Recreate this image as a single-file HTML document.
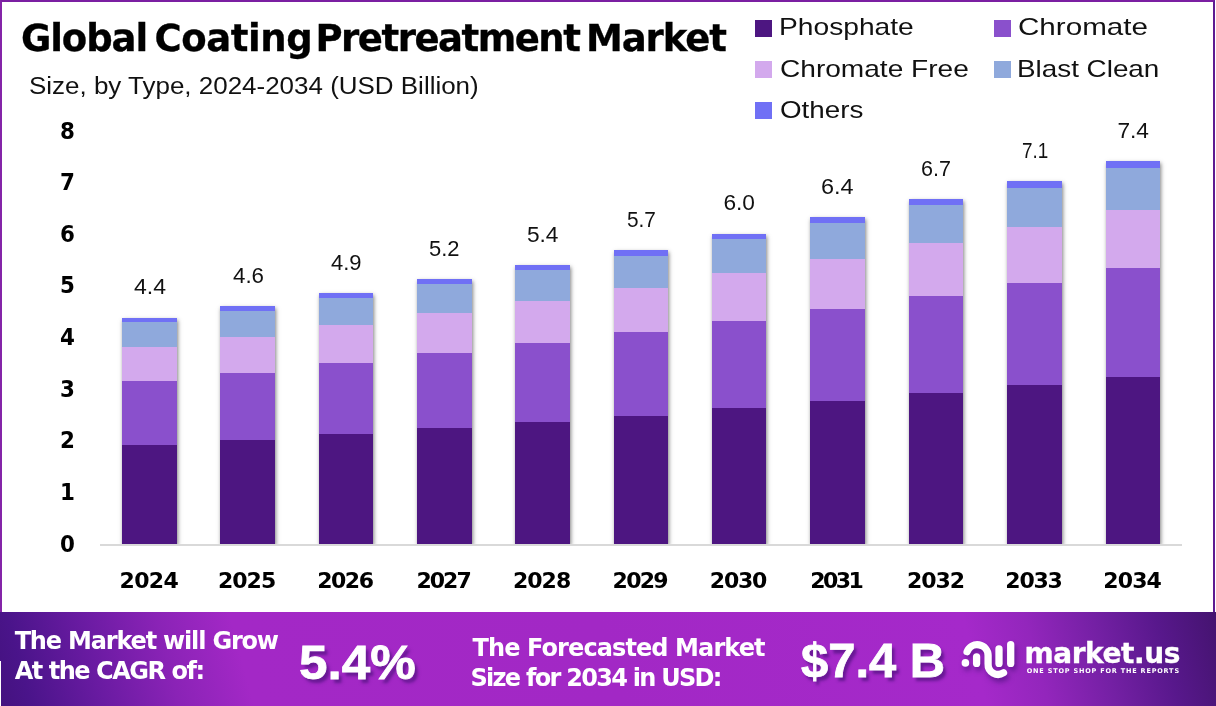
<!DOCTYPE html>
<html lang="en">
<head>
<meta charset="utf-8">
<title>Global Coating Pretreatment Market</title>
<style>
html,body{margin:0;padding:0;}
body{width:1216px;height:706px;position:relative;overflow:hidden;background:#fff;font-family:"Liberation Sans",sans-serif;}
.t{position:absolute;margin:0;padding:0;white-space:pre;line-height:1;transform-origin:0 50%;display:block;font-style:normal}
h1,h2,ul,li,p{margin:0;padding:0;list-style:none;font-weight:normal}
.frame{position:absolute;left:0;top:0;width:1215px;height:612px;box-sizing:border-box;border-top:2px solid #7b1fa2;border-left:2px solid #8424a8;border-right:2px solid #5e1b91;}
.legend i{position:absolute;width:17px;height:17px;display:block}
.bar{position:absolute;width:54.6px;box-shadow:0.5px 2px 4px rgba(0,0,0,.5);clip-path:inset(-10px -10px 0 -10px);}
.bar b{position:absolute;left:0;width:100%;display:block}
.axis{position:absolute;left:100px;top:544px;width:1082px;height:2px;background:#d9d9d9}
.footer{position:absolute;left:0;top:612px;width:1216px;height:94px;background:linear-gradient(75deg,#44127f 0%,#4a148a 2.5%,#6a1ba2 8.5%,#8a23b6 14.5%,#a328c6 20.5%,#a228c5 50%,#a529ca 79.5%,#9326bc 84.5%,#7420a4 90%,#58188c 95%,#461472 99.5%,#44136f 100%);}
</style>
</head>
<body>
<div class="frame"></div>
<h1><span class="t" style="left:21.00px;top:19.88px;font-size:37px;font-weight:bold;color:#000;letter-spacing:-1.100px;-webkit-text-stroke:0.3px #000;font-family:'DejaVu Sans',sans-serif;">Global</span><span class="t" style="left:154.50px;top:19.88px;font-size:37px;font-weight:bold;color:#000;letter-spacing:-0.417px;-webkit-text-stroke:0.3px #000;font-family:'DejaVu Sans',sans-serif;">Coating</span><span class="t" style="left:315.50px;top:19.88px;font-size:37px;font-weight:bold;color:#000;letter-spacing:-1.500px;-webkit-text-stroke:0.3px #000;font-family:'DejaVu Sans',sans-serif;">Pretreatment</span><span class="t" style="left:586.00px;top:19.88px;font-size:37px;font-weight:bold;color:#000;letter-spacing:-1.100px;-webkit-text-stroke:0.3px #000;font-family:'DejaVu Sans',sans-serif;">Market</span></h1>
<h2><span class="t" style="left:29.44px;top:73.85px;font-size:24.4px;font-weight:normal;color:#111;transform:scaleX(1.0643);">Size, by Type, 2024-2034 (USD Billion)</span></h2>
<ul class="legend">
<li><i style="left:755px;top:20px;background:#4d1681"></i><span class="t" style="left:778.65px;top:15.08px;font-size:24px;font-weight:normal;color:#111;transform:scaleX(1.1741);">Phosphate</span></li>
<li><i style="left:994px;top:20px;background:#8a50cc"></i><span class="t" style="left:1017.77px;top:15.08px;font-size:24px;font-weight:normal;color:#111;transform:scaleX(1.2330);">Chromate</span></li>
<li><i style="left:755px;top:61px;background:#d3a9ed"></i><span class="t" style="left:779.83px;top:56.68px;font-size:24px;font-weight:normal;color:#111;transform:scaleX(1.1698);">Chromate Free</span></li>
<li><i style="left:994px;top:61px;background:#8fa9dc"></i><span class="t" style="left:1016.68px;top:56.68px;font-size:24px;font-weight:normal;color:#111;transform:scaleX(1.1597);">Blast Clean</span></li>
<li><i style="left:755px;top:102px;background:#7070f5"></i><span class="t" style="left:779.84px;top:97.88px;font-size:24px;font-weight:normal;color:#111;transform:scaleX(1.1571);">Others</span></li>
</ul>
<div class="yaxis"><span class="t" style="left:59.52px;top:532.59px;font-size:22.1px;font-weight:bold;color:#000;transform:scaleX(0.9700);font-family:'DejaVu Sans',sans-serif;">0</span><span class="t" style="left:59.52px;top:480.97px;font-size:22.1px;font-weight:bold;color:#000;transform:scaleX(0.9700);font-family:'DejaVu Sans',sans-serif;">1</span><span class="t" style="left:60.49px;top:429.35px;font-size:22.1px;font-weight:bold;color:#000;transform:scaleX(0.9700);font-family:'DejaVu Sans',sans-serif;">2</span><span class="t" style="left:59.52px;top:377.73px;font-size:22.1px;font-weight:bold;color:#000;transform:scaleX(0.9700);font-family:'DejaVu Sans',sans-serif;">3</span><span class="t" style="left:59.52px;top:326.11px;font-size:22.1px;font-weight:bold;color:#000;transform:scaleX(0.9700);font-family:'DejaVu Sans',sans-serif;">4</span><span class="t" style="left:59.52px;top:274.49px;font-size:22.1px;font-weight:bold;color:#000;transform:scaleX(0.9700);font-family:'DejaVu Sans',sans-serif;">5</span><span class="t" style="left:59.52px;top:222.87px;font-size:22.1px;font-weight:bold;color:#000;transform:scaleX(0.9700);font-family:'DejaVu Sans',sans-serif;">6</span><span class="t" style="left:59.52px;top:171.25px;font-size:22.1px;font-weight:bold;color:#000;transform:scaleX(0.9700);font-family:'DejaVu Sans',sans-serif;">7</span><span class="t" style="left:59.52px;top:119.63px;font-size:22.1px;font-weight:bold;color:#000;transform:scaleX(0.9700);font-family:'DejaVu Sans',sans-serif;">8</span></div>
<div class="plot">
<div class="bar" style="left:122px;width:55px;top:317.5px;height:226.5px"><b style="top:127.29px;height:99.51px;background:#4d1681"></b><b style="top:63.26px;height:64.33px;background:#8a50cc"></b><b style="top:28.77px;height:34.80px;background:#d3a9ed"></b><b style="top:4.01px;height:25.06px;background:#8fa9dc"></b><b style="top:0.00px;height:4.31px;background:#7070f5"></b></div>
<div class="bar" style="left:220px;width:55px;top:306px;height:238px"><b style="top:133.76px;height:104.54px;background:#4d1681"></b><b style="top:66.47px;height:67.58px;background:#8a50cc"></b><b style="top:30.23px;height:36.55px;background:#d3a9ed"></b><b style="top:4.21px;height:26.31px;background:#8fa9dc"></b><b style="top:0.00px;height:4.51px;background:#7070f5"></b></div>
<div class="bar" style="left:319px;width:54px;top:293px;height:251px"><b style="top:141.06px;height:110.24px;background:#4d1681"></b><b style="top:70.10px;height:71.26px;background:#8a50cc"></b><b style="top:31.88px;height:38.53px;background:#d3a9ed"></b><b style="top:4.44px;height:27.73px;background:#8fa9dc"></b><b style="top:0.00px;height:4.74px;background:#7070f5"></b></div>
<div class="bar" style="left:417px;width:55px;top:279px;height:265px"><b style="top:148.93px;height:116.37px;background:#4d1681"></b><b style="top:74.01px;height:75.22px;background:#8a50cc"></b><b style="top:33.65px;height:40.66px;background:#d3a9ed"></b><b style="top:4.69px;height:29.26px;background:#8fa9dc"></b><b style="top:0.00px;height:4.99px;background:#7070f5"></b></div>
<div class="bar" style="left:515px;width:55px;top:265px;height:279px"><b style="top:156.80px;height:122.50px;background:#4d1681"></b><b style="top:77.92px;height:79.17px;background:#8a50cc"></b><b style="top:35.43px;height:42.79px;background:#d3a9ed"></b><b style="top:4.94px;height:30.79px;background:#8fa9dc"></b><b style="top:0.00px;height:5.24px;background:#7070f5"></b></div>
<div class="bar" style="left:614px;width:54px;top:250px;height:294px"><b style="top:165.23px;height:129.07px;background:#4d1681"></b><b style="top:82.11px;height:83.41px;background:#8a50cc"></b><b style="top:37.34px;height:45.08px;background:#d3a9ed"></b><b style="top:5.20px;height:32.43px;background:#8fa9dc"></b><b style="top:-0.00px;height:5.50px;background:#7070f5"></b></div>
<div class="bar" style="left:712px;width:54px;top:233.5px;height:310.5px"><b style="top:174.50px;height:136.30px;background:#4d1681"></b><b style="top:86.72px;height:88.08px;background:#8a50cc"></b><b style="top:39.43px;height:47.59px;background:#d3a9ed"></b><b style="top:5.50px;height:34.24px;background:#8fa9dc"></b><b style="top:0.00px;height:5.80px;background:#7070f5"></b></div>
<div class="bar" style="left:810px;width:55px;top:217px;height:327px"><b style="top:183.77px;height:143.53px;background:#4d1681"></b><b style="top:91.33px;height:92.74px;background:#8a50cc"></b><b style="top:41.53px;height:50.10px;background:#d3a9ed"></b><b style="top:5.79px;height:36.04px;background:#8fa9dc"></b><b style="top:0.00px;height:6.09px;background:#7070f5"></b></div>
<div class="bar" style="left:909px;width:54px;top:199px;height:345px"><b style="top:193.89px;height:151.41px;background:#4d1681"></b><b style="top:96.36px;height:97.83px;background:#8a50cc"></b><b style="top:43.81px;height:52.84px;background:#d3a9ed"></b><b style="top:6.11px;height:38.01px;background:#8fa9dc"></b><b style="top:-0.00px;height:6.41px;background:#7070f5"></b></div>
<div class="bar" style="left:1007px;width:55px;top:181px;height:363px"><b style="top:204.01px;height:159.29px;background:#4d1681"></b><b style="top:101.39px;height:102.92px;background:#8a50cc"></b><b style="top:46.10px;height:55.58px;background:#d3a9ed"></b><b style="top:6.43px;height:39.98px;background:#8fa9dc"></b><b style="top:0.00px;height:6.73px;background:#7070f5"></b></div>
<div class="bar" style="left:1106px;width:54px;top:161px;height:383px"><b style="top:215.25px;height:168.05px;background:#4d1681"></b><b style="top:106.97px;height:108.57px;background:#8a50cc"></b><b style="top:48.64px;height:58.63px;background:#d3a9ed"></b><b style="top:6.78px;height:42.16px;background:#8fa9dc"></b><b style="top:0.00px;height:7.08px;background:#7070f5"></b></div>
<div class="axis"></div>
</div>
<div class="values"><span class="t" style="left:134.15px;top:275.18px;font-size:22.7px;font-weight:normal;color:#111;transform:scaleX(1.0161);">4.4</span><span class="t" style="left:232.65px;top:263.68px;font-size:22.7px;font-weight:normal;color:#111;transform:scaleX(0.9839);">4.6</span><span class="t" style="left:331.40px;top:250.68px;font-size:22.7px;font-weight:normal;color:#111;transform:scaleX(0.9677);">4.9</span><span class="t" style="left:429.43px;top:236.68px;font-size:22.7px;font-weight:normal;color:#111;transform:scaleX(0.9667);">5.2</span><span class="t" style="left:526.90px;top:222.68px;font-size:22.7px;font-weight:normal;color:#111;transform:scaleX(1.0000);">5.4</span><span class="t" style="left:626.73px;top:207.68px;font-size:22.7px;font-weight:normal;color:#111;transform:scaleX(0.9167);">5.7</span><span class="t" style="left:723.40px;top:191.18px;font-size:22.7px;font-weight:normal;color:#111;transform:scaleX(1.0000);">6.0</span><span class="t" style="left:821.37px;top:174.68px;font-size:22.7px;font-weight:normal;color:#111;transform:scaleX(1.0333);">6.4</span><span class="t" style="left:921.20px;top:156.68px;font-size:22.7px;font-weight:normal;color:#111;transform:scaleX(0.9500);">6.7</span><span class="t" style="left:1021.57px;top:138.68px;font-size:22.7px;font-weight:normal;color:#111;transform:scaleX(0.8333);">7.1</span><span class="t" style="left:1117.40px;top:118.68px;font-size:22.7px;font-weight:normal;color:#111;transform:scaleX(1.0000);">7.4</span></div>
<div class="xaxis"><span class="t" style="left:119.50px;top:569.78px;font-size:22px;font-weight:bold;color:#000;letter-spacing:-0.667px;font-family:'DejaVu Sans',sans-serif;">2024</span><span class="t" style="left:218.00px;top:569.78px;font-size:22px;font-weight:bold;color:#000;letter-spacing:-1.000px;font-family:'DejaVu Sans',sans-serif;">2025</span><span class="t" style="left:317.25px;top:569.78px;font-size:22px;font-weight:bold;color:#000;letter-spacing:-1.500px;font-family:'DejaVu Sans',sans-serif;">2026</span><span class="t" style="left:416.50px;top:569.78px;font-size:22px;font-weight:bold;color:#000;letter-spacing:-2.000px;font-family:'DejaVu Sans',sans-serif;">2027</span><span class="t" style="left:513.00px;top:569.78px;font-size:22px;font-weight:bold;color:#000;letter-spacing:-1.000px;font-family:'DejaVu Sans',sans-serif;">2028</span><span class="t" style="left:612.60px;top:569.78px;font-size:22px;font-weight:bold;color:#000;letter-spacing:-1.733px;font-family:'DejaVu Sans',sans-serif;">2029</span><span class="t" style="left:709.85px;top:569.78px;font-size:22px;font-weight:bold;color:#000;letter-spacing:-1.233px;font-family:'DejaVu Sans',sans-serif;">2030</span><span class="t" style="left:810.35px;top:569.78px;font-size:22px;font-weight:bold;color:#000;letter-spacing:-2.567px;font-family:'DejaVu Sans',sans-serif;">2031</span><span class="t" style="left:907.10px;top:569.78px;font-size:22px;font-weight:bold;color:#000;letter-spacing:-1.067px;font-family:'DejaVu Sans',sans-serif;">2032</span><span class="t" style="left:1005.35px;top:569.78px;font-size:22px;font-weight:bold;color:#000;letter-spacing:-1.233px;font-family:'DejaVu Sans',sans-serif;">2033</span><span class="t" style="left:1103.35px;top:569.78px;font-size:22px;font-weight:bold;color:#000;letter-spacing:-0.900px;font-family:'DejaVu Sans',sans-serif;">2034</span></div>
<div class="footer"></div>
<div class="notch" style="position:absolute;left:0;top:661px;width:1px;height:45px;background:#fff"></div>
<div class="footer-text">
<span class="t" style="left:14.70px;top:628.98px;font-size:24px;font-weight:bold;color:#fff;letter-spacing:-1.184px;font-family:'DejaVu Sans',sans-serif;">The Market will Grow</span>
<span class="t" style="left:14.70px;top:658.98px;font-size:24px;font-weight:bold;color:#fff;letter-spacing:-1.464px;font-family:'DejaVu Sans',sans-serif;">At the CAGR of:</span>
<span class="t" style="left:298.80px;top:637.89px;font-size:48.8px;font-weight:bold;color:#fff;transform:scaleX(1.0500);text-shadow:3px 4px 3px rgba(70,15,120,.65);-webkit-text-stroke:0.8px #fff;">5.4%</span>
<span class="t" style="left:472.50px;top:635.68px;font-size:24px;font-weight:bold;color:#fff;letter-spacing:-0.900px;font-family:'DejaVu Sans',sans-serif;">The Forecasted Market</span>
<span class="t" style="left:470.50px;top:665.78px;font-size:24px;font-weight:bold;color:#fff;letter-spacing:-1.725px;font-family:'DejaVu Sans',sans-serif;">Size for 2034 in USD:</span>
<span class="t" style="left:801.29px;top:635.74px;font-size:48.5px;font-weight:bold;color:#fff;transform:scaleX(1.0086);text-shadow:3px 4px 3px rgba(70,15,120,.65);-webkit-text-stroke:0.8px #fff;">$7.4 B</span>
<span class="t" style="left:1024.50px;top:639.50px;font-size:28px;font-weight:bold;color:#fff;letter-spacing:-0.438px;-webkit-text-stroke:0.35px #fff;font-family:'DejaVu Sans',sans-serif;">market.us</span>
<span class="t" style="left:1026.70px;top:667.70px;font-size:6.5px;font-weight:bold;color:#fff;letter-spacing:0.821px;font-family:'DejaVu Sans',sans-serif;">ONE STOP SHOP FOR THE REPORTS</span>
<svg class="logo" style="position:absolute;left:950px;top:626px;filter:drop-shadow(2px 4px 2.5px rgba(70,15,120,.6))" width="80" height="66" viewBox="950 626 80 66" fill="none" stroke="#fff" stroke-width="7.3" stroke-linecap="round">
<path d="M967.1 651.7 A10.85 10.85 0 0 1 988.1 655.4 L988.1 664 A10 10 0 0 0 1003.5 672.8"/>
<path d="M976.6 656.8 L976.6 663.4"/>
<path d="M999 648.9 L999 663.4"/>
<path d="M1010.7 644.7 L1010.7 663.4"/>
<circle cx="965.4" cy="662.9" r="3.8" fill="#fff" stroke="none"/>
</svg>
</div>
</body>
</html>
